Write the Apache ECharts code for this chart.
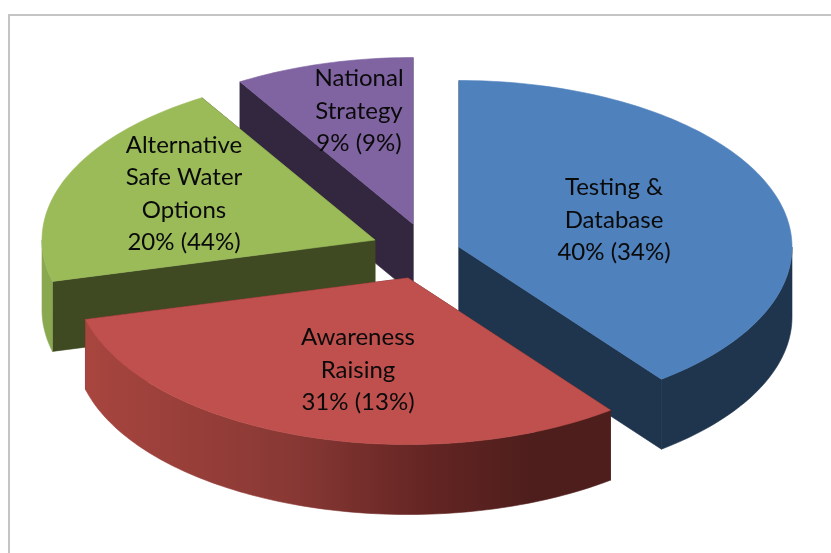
<!DOCTYPE html>
<html>
<head>
<meta charset="utf-8">
<title>Pie</title>
<style>
html,body{margin:0;padding:0;background:#fff;}
#chart{width:831px;height:553px;}
</style>
<script src="https://cdn.jsdelivr.net/npm/echarts@6/dist/echarts.min.js"></script>
</head>
<body>
<div id="chart"></div>
<script>
// slice names, clockwise from 12 o'clock
const categories = ['Testing &\nDatabase', 'Awareness\nRaising', 'Alternative\nSafe Water\nOptions', 'National\nStrategy'];
// first percentage in each label (they round to 40/31/20/9)
const shareValues = [39.6, 31.4, 20.3, 8.7];
// percentage in brackets
const bracketValues = [34, 13, 44, 9];

// layout + look, not data
const center = [420, 255];
const radius = 333;
const tilt = 0.5;
const depth = 70;
const explode = [[39, -8], [-12, 23], [-45, -15], [-7, -31]];
const labelOffset = [[155, -27], [-50, 92], [-191, -46], [-54, -113]];
const drawOrder = [3, 4, 2, 1]; // purple, green, blue, red
const topColors = ['#4F81BD', '#C0504D', '#9BBB59', '#8064A2'];
const faceColors = ['#1F344D', '#4E1E1C', '#3F4A23', '#33263F'];
const wallColors = [
    '#1F344D',
    {type: 'linear', x: 0, y: 0, x2: 1, y2: 0, colorStops: [
        {offset: 0, color: '#A8453F'},
        {offset: 0.4, color: '#883834'},
        {offset: 0.65, color: '#642523'},
        {offset: 0.85, color: '#4E1E1C'},
        {offset: 1, color: '#4E1E1C'}
    ]},
    '#8AA850',
    '#33263F'
];

// cumulative start/end of each slice on the angle axis
let sum = 0;
const sliceData = shareValues.map(v => {
    const row = [1, sum, sum + v];
    sum += v;
    return row;
});

function renderSlice(params, api) {
    const i = params.dataIndex;
    const from = api.value(1), to = api.value(2);
    const ox = center[0] + explode[i][0], oy = center[1] + explode[i][1];
    // polar point squashed into the tilted pie plane
    const pt = (r, ang, dy) => {
        const p = api.coord([r, ang]);
        return [ox + p[0] - center[0], oy + (p[1] - center[1]) * tilt + (dy || 0)];
    };
    const rim = (a, b, dy) => {
        const pts = [];
        const n = Math.max(2, Math.ceil((b - a) * 3));
        for (let k = 0; k <= n; k++) pts.push(pt(1, a + (b - a) * k / n, dy));
        return pts;
    };
    // same colour stroke closes the hairline seams between faces
    const poly = (points, fill, z) => ({
        type: 'polygon',
        z2: drawOrder[i] * 10 + z,
        shape: {points: points},
        style: {fill: fill, stroke: fill, lineWidth: 0.6, lineJoin: 'round'}
    });
    const apex = pt(0, from), apexLow = pt(0, from, depth);
    const children = [
        poly([apex, pt(1, from), pt(1, from, depth), apexLow], faceColors[i], 0),
        poly([apex, pt(1, to), pt(1, to, depth), apexLow], faceColors[i], 0)
    ];
    // outer wall only on the front half of the rim
    const a = Math.max(from, 25), b = Math.min(to, 75);
    if (b > a) {
        children.push(poly(rim(a, b, 0).concat(rim(a, b, depth).reverse()), wallColors[i], 1));
    }
    children.push(poly([apex].concat(rim(from, to, 0)), topColors[i], 2));
    children.push({
        type: 'text',
        z2: 100,
        x: ox + labelOffset[i][0],
        y: oy + labelOffset[i][1],
        style: {
            text: categories[i] + '\n' + Math.round(shareValues[i]) + '% (' + bracketValues[i] + '%)',
            fontFamily: 'Lato',
            fontSize: 24,
            lineHeight: 32.5,
            fill: '#0A0A0A',
            align: 'center',
            verticalAlign: 'middle'
        }
    });
    return {type: 'group', children: children};
}

const chart = echarts.init(document.getElementById('chart'));
chart.setOption({
    backgroundColor: '#fff',
    animation: false,
    polar: {center: center, radius: radius},
    angleAxis: {type: 'value', min: 0, max: 100, startAngle: 90, show: false},
    radiusAxis: {type: 'value', min: 0, max: 1, show: false},
    graphic: [{
        type: 'polyline',
        silent: true,
        shape: {points: [[9, 553], [9, 15], [831, 15]]},
        style: {stroke: '#C4C4C4', lineWidth: 2, fill: null}
    }],
    series: [{
        type: 'custom',
        coordinateSystem: 'polar',
        renderItem: renderSlice,
        silent: true,
        data: sliceData
    }]
});
</script>
</body>
</html>
